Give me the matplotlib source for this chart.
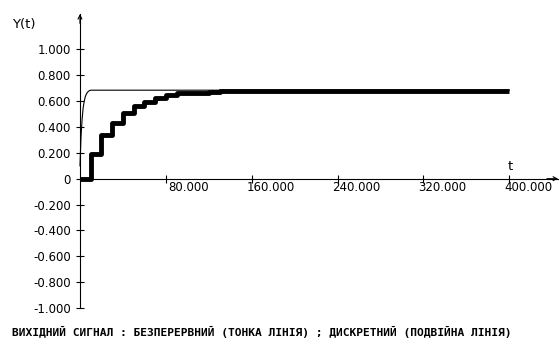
import matplotlib.pyplot as plt
import matplotlib.transforms as mtransforms
import numpy as np

# continuous output (thin line)
t_cont = [0, 1, 2, 3, 4, 5, 6, 7, 8, 9, 10, 400]
y_cont = [0.10, 0.33, 0.46, 0.55, 0.60, 0.635, 0.655, 0.668, 0.676, 0.681, 0.684, 0.684]

# discrete output (thick line), sample step 10
t_disc = list(range(0, 410, 10))
y_disc = [0.0, 0.19, 0.335, 0.43, 0.505, 0.56, 0.595, 0.62, 0.645, 0.66,
          0.66, 0.665, 0.668, 0.675] + [0.675] * 27

xticks = [80, 160, 240, 320, 400]
xtick_labels = ["80.000", "160.000", "240.000", "320.000", "400.000"]
yticks = [1.0, 0.8, 0.6, 0.4, 0.2, 0, -0.2, -0.4, -0.6, -0.8, -1.0]
ytick_labels = ["1.000", "0.800", "0.600", "0.400", "0.200", "0",
                "-0.200", "-0.400", "-0.600", "-0.800", "-1.000"]

caption = "ВИХІДНИЙ СИГНАЛ : БЕЗПЕРЕРВНИЙ (ТОНКА ЛІНІЯ) ; ДИСКРЕТНИЙ (ПОДВІЙНА ЛІНІЯ)"

mono = "DejaVu Sans Mono"
sans = "DejaVu Sans"

fig = plt.figure(figsize=(5.6, 3.43), dpi=100)
ax = fig.add_axes([0, 0, 1, 1])
ax.set_xlim(-74.5, 447.2)
ax.set_ylim(-1.270, 1.381)

ax.plot(t_cont, y_cont, color="black", lw=0.8)
ax.plot(t_disc, y_disc, color="black", lw=3.5, drawstyle="steps-post",
        solid_capstyle="butt")

for s in ["top", "right"]:
    ax.spines[s].set_visible(False)
ax.spines["left"].set_position(("data", 0))
ax.spines["bottom"].set_position(("data", 0))
ax.spines["left"].set_bounds(-1.0, 1.27)
ax.spines["bottom"].set_bounds(0, 445)
ax.spines["left"].set_linewidth(0.8)
ax.spines["bottom"].set_linewidth(0.8)

ax.set_yticks(yticks, labels=ytick_labels)
ax.set_xticks(xticks, labels=[""] * len(xticks))
ax.tick_params(axis="both", direction="inout", length=6, width=0.8)
ax.tick_params(axis="y", pad=3.6, labelsize=8.5)
for lbl in ax.get_yticklabels():
    lbl.set_fontfamily(sans)

# x labels end ~43 px right of their tick
off = mtransforms.ScaledTranslation(43 / 100, -2 / 100, fig.dpi_scale_trans)
for x, lab in zip(xticks, xtick_labels):
    ax.text(x, 0, lab, transform=ax.transData + off, ha="right", va="top",
            fontsize=8.5, family=sans)

# arrow heads
ax.annotate("", xy=(0, 1.273), xytext=(0, 1.2),
            arrowprops=dict(arrowstyle="->", lw=0.8, mutation_scale=7, shrinkA=0, shrinkB=0))
ax.annotate("", xy=(445.5, 0), xytext=(435, 0),
            arrowprops=dict(arrowstyle="->", lw=0.8, mutation_scale=7, shrinkA=0, shrinkB=0))

fig.text(24 / 560, 1 - 24.7 / 343, "Y(t)", ha="center", va="center", fontsize=9.5, family=sans)
fig.text(510 / 560, 1 - 166 / 343, "t", ha="center", va="center", fontsize=9.5, family=sans)
fig.text(12 / 560, 1 - 332 / 343, caption, ha="left", va="center", fontsize=8.1,
         family=mono, fontweight="bold")

fig.savefig("out.png", dpi=100)
